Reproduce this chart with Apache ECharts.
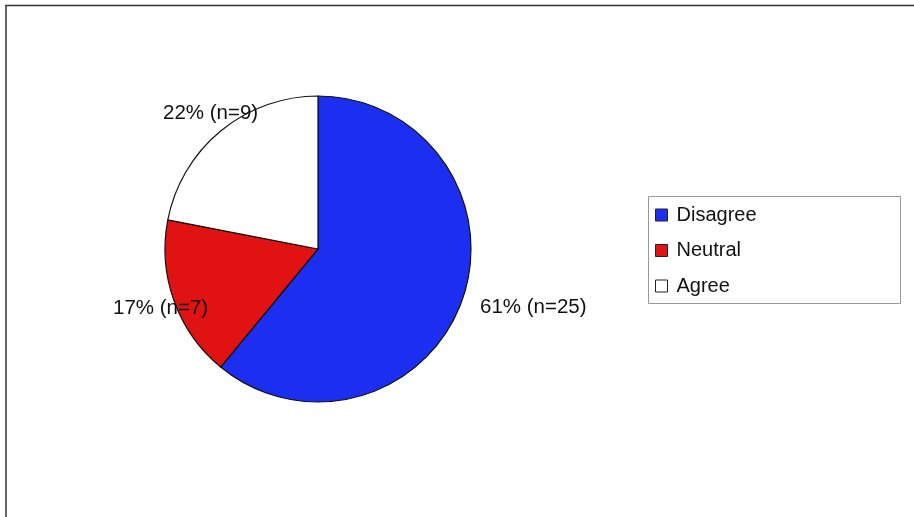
<!DOCTYPE html>
<html><head><meta charset="utf-8">
<script src="https://cdn.jsdelivr.net/npm/echarts@6/dist/echarts.min.js"></script>
<style>html,body{margin:0;padding:0;background:#fff}#c{width:914px;height:517px}</style>
</head><body><div id="c"></div>
<script>
const categories = ['Disagree', 'Neutral', 'Agree'];
const counts = [25, 7, 9];
const percents = ['61%', '17%', '22%'];
const colors = ['#1c2ff0', '#e01212', '#ffffff'];

const chart = echarts.init(document.getElementById('c'), null, {renderer: 'canvas'});
const labelPos = [
  {x: 480, y: 307},
  {x: 113, y: 308},
  {x: 163, y: 113}
];
chart.setOption({
  backgroundColor: '#fff',
  animation: false,
  graphic: [
    {type: 'polyline', shape: {points: [[6, 517], [6, 5.5], [914, 5.5]]}, style: {stroke: '#333', lineWidth: 1.5, fill: null}},
    {type: 'rect', shape: {x: 648.5, y: 196.5, width: 252, height: 107}, style: {stroke: '#999', lineWidth: 1, fill: null}}
  ],
  legend: {
    orient: 'vertical',
    left: 655,
    top: 205,
    padding: 0,
    itemWidth: 12,
    itemHeight: 12,
    itemGap: 15.5,
    icon: 'rect',
    textStyle: {fontFamily: 'Liberation Sans', fontSize: 20, color: '#111', padding: [0, 0, 0, 4]},
    itemStyle: {borderColor: '#222', borderWidth: 1},
    data: categories
  },
  series: [{
    type: 'pie',
    center: [318, 249],
    radius: 153,
    startAngle: 90,
    clockwise: true,
    avoidLabelOverlap: false,
    itemStyle: {borderColor: '#111', borderWidth: 1.2},
    emphasis: {disabled: true},
    label: {
      show: true,
      position: 'outside',
      fontFamily: 'Liberation Sans',
      fontSize: 20.5,
      color: '#111',
      formatter: p => percents[p.dataIndex] + ' (n=' + counts[p.dataIndex] + ')'
    },
    labelLine: {show: false},
    labelLayout: p => ({x: labelPos[p.dataIndex].x, y: labelPos[p.dataIndex].y, align: 'left', verticalAlign: 'middle'}),
    data: categories.map((c, i) => ({name: c, value: counts[i], itemStyle: {color: colors[i]}}))
  }]
});
</script></body></html>
